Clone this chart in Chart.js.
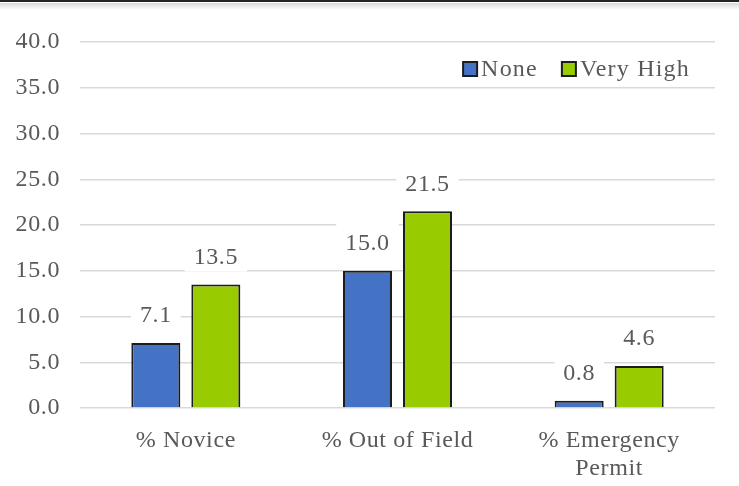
<!DOCTYPE html>
<html><head><meta charset="utf-8">
<script src="https://cdn.jsdelivr.net/npm/chart.js@4/dist/chart.umd.min.js"></script>
<style>html,body{margin:0;padding:0;background:#fff;}#wrap{width:739px;height:486px;position:relative;}</style>
</head><body><div id="wrap"><canvas id="c" width="739" height="486"></canvas></div>
<script>
const categories = [["% Novice"], ["% Out of Field"], ["% Emergency", "Permit"]];
const noneValues = [7.1, 15.0, 0.8];
const veryHighValues = [13.5, 21.5, 4.6];
const seriesNames = ["None", "Very High"];
const yTicks = [0, 5, 10, 15, 20, 25, 30, 35, 40];

const FONT = "'Liberation Serif', 'DejaVu Serif', serif";
const TXT = '#595959';
const SPACING = '0.6px';

const topBorder = {
  id: 'topBorder',
  beforeLayout(chart) { chart.ctx.letterSpacing = SPACING; },
  beforeDraw(chart) {
    const ctx = chart.ctx;
    ctx.letterSpacing = SPACING;
    ctx.save();
    ctx.fillStyle = '#fff';
    ctx.fillRect(0, 0, chart.width, chart.height);
    ctx.fillStyle = '#222';
    ctx.fillRect(0, 0, chart.width, 2);
    const g = ctx.createLinearGradient(0, 3, 0, 10);
    g.addColorStop(0, '#d8d8d8'); g.addColorStop(1, '#ffffff');
    ctx.fillStyle = g;
    ctx.fillRect(0, 3, chart.width, 7);
    ctx.restore();
  }
};

const valueLabels = {
  id: 'valueLabels',
  afterDatasetsDraw(chart) {
    const ctx = chart.ctx;
    ctx.save();
    ctx.font = "24px " + FONT;
    ctx.textAlign = 'center';
    ctx.textBaseline = 'middle';
    chart.data.datasets.forEach((ds, di) => {
      chart.getDatasetMeta(di).data.forEach((bar, i) => {
        const txt = ds.data[i].toFixed(1);
        const y = bar.y - 28;
        const w = ctx.measureText(txt).width + 18;
        ctx.fillStyle = '#fff';
        ctx.fillRect(bar.x - w / 2, y - 19, w, 34);
        ctx.fillStyle = TXT;
        ctx.fillText(txt, bar.x, y + 1);
      });
    });
    ctx.restore();
  }
};

const inLegend = {
  id: 'inLegend',
  afterDraw(chart) {
    const ctx = chart.ctx;
    ctx.save();
    ctx.font = "24px " + FONT;
    ctx.letterSpacing = '1.2px';
    ctx.textBaseline = 'middle';
    ctx.textAlign = 'left';
    const cy = chart.chartArea.top + 27;
    const box = 14, gap = 4, space = 24;
    const items = chart.data.datasets.map(d => ({ t: d.label, c: d.backgroundColor, w: ctx.measureText(d.label).width }));
    let total = items.reduce((s, it) => s + box + gap + it.w, 0) + space * (items.length - 1);
    let x = chart.chartArea.right - 25 - total;
    items.forEach(it => {
      ctx.fillStyle = it.c;
      ctx.fillRect(x, cy - box / 2, box, box);
      ctx.strokeStyle = '#1c1c1c';
      ctx.lineWidth = 2;
      ctx.strokeRect(x, cy - box / 2, box, box);
      ctx.fillStyle = TXT;
      ctx.fillText(it.t, x + box + gap, cy + 1);
      x += box + gap + it.w + space;
    });
    ctx.restore();
  }
};

new Chart(document.getElementById('c'), {
  type: 'bar',
  data: {
    labels: categories,
    datasets: [
      { label: seriesNames[0], data: noneValues, backgroundColor: '#4472c4', borderColor: '#1c1c1c', borderWidth: 2, borderSkipped: 'bottom', categoryPercentage: 0.567, barPercentage: 0.817 },
      { label: seriesNames[1], data: veryHighValues, backgroundColor: '#99cc00', borderColor: '#1c1c1c', borderWidth: 2, borderSkipped: 'bottom', categoryPercentage: 0.567, barPercentage: 0.817 }
    ]
  },
  options: {
    responsive: false,
    animation: false,
    devicePixelRatio: 1,
    layout: { padding: { top: 42, right: 24, left: 0, bottom: 0 } },
    plugins: {
      legend: { display: false },
      tooltip: { enabled: false }
    },
    scales: {
      x: {
        grid: { display: false, drawTicks: false },
        border: { display: false },
        ticks: { color: TXT, font: { family: FONT, size: 24, lineHeight: 1.17 }, padding: 19, maxRotation: 0, autoSkip: false },
        afterFit(s) { s.height = 78; }
      },
      y: {
        min: 0, max: 40,
        afterBuildTicks(s) { s.ticks = yTicks.map(v => ({ value: v })); },
        grid: { color: '#d9d9d9', lineWidth: 1.5, drawTicks: false },
        border: { display: false },
        ticks: { color: TXT, font: { family: FONT, size: 24 }, padding: 20, callback: v => Number(v).toFixed(1) },
        afterFit(s) { s.width = 80; }
      }
    }
  },
  plugins: [topBorder, valueLabels, inLegend]
});
</script></body></html>
